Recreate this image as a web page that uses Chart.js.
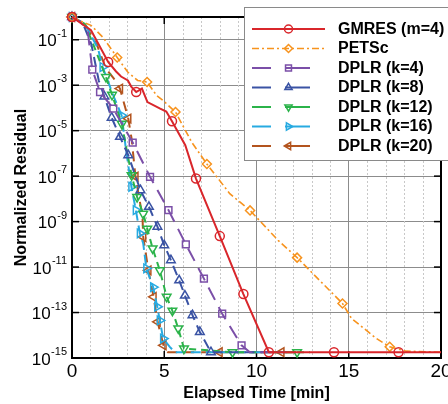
<!DOCTYPE html>
<html>
<head>
<meta charset="utf-8">
<script src="https://cdn.jsdelivr.net/npm/chart.js@4.4.1/dist/chart.umd.min.js"></script>
<style>
  html, body { margin: 0; padding: 0; background: #fff; }
  #wrap { width: 448px; height: 404px; }
</style>
</head>
<body>
<div id="wrap"><canvas id="residualChart"></canvas></div>
<script>
// values (time in min, normalized residual)
const gmresTime = [0, 1.03, 1.96, 2.39, 2.66, 3.03, 3.21, 3.48, 3.79, 4.09, 4.78, 5.11, 5.42, 6.14, 6.72, 8.01, 9.29, 10.67, 14.2, 17.7, 20];
const gmresResidual = [1, 2.6e-1, 1.05e-2, 4.0e-3, 2.4e-3, 1.62e-3, 8.7e-4, 5.0e-4, 7.1e-4, 1.82e-4, 9.3e-5, 6.9e-5, 2.6e-5, 2.3e-6, 7.8e-8, 2.3e-10, 6.5e-13, 1.8e-15, 1.8e-15, 1.8e-15, 1.8e-15];

const petscTime = [0, 0.58, 1.03, 1.66, 2.45, 3.02, 3.56, 4.07, 4.59, 4.94, 5.61, 6.48, 7.31, 8.55, 9.65, 11.17, 12.2, 14.66, 15.15, 16.5, 17.22, 18.12, 20];
const petscResidual = [1, 6.0e-1, 4.3e-1, 1.32e-1, 1.66e-2, 3.8e-3, 1.62e-3, 1.38e-3, 3.5e-4, 2.1e-4, 6.6e-5, 3.2e-6, 3.4e-7, 1.7e-8, 3.1e-9, 1.5e-10, 2.6e-11, 2.5e-13, 5.5e-14, 7.2e-15, 3.1e-15, 2.0e-15, 1.8e-15];

const dplr4Time = [0, 0.45, 0.85, 1.1, 1.52, 2.24, 3.29, 4.23, 5.23, 6.17, 7.15, 8.14, 9.19, 9.64, 11.0];
const dplr4Residual = [1, 6.3e-1, 2.5e-1, 4.8e-3, 5.0e-4, 9.3e-5, 3.0e-6, 9.3e-8, 3.2e-9, 1.0e-10, 3.1e-12, 8.9e-14, 3.6e-15, 1.8e-15, 1.8e-15];

const dplr8Time = [0, 0.6, 1.05, 1.45, 1.75, 2.15, 2.6, 3.05, 3.71, 4.17, 4.63, 5.0, 5.36, 5.81, 6.12, 6.53, 6.93, 7.53, 12.0];
const dplr8Residual = [1, 5.0e-1, 6.3e-2, 1.6e-3, 3.2e-4, 3.7e-5, 5.4e-6, 8.3e-7, 2.4e-8, 4.5e-9, 6.0e-10, 9.1e-11, 2.0e-11, 2.6e-12, 5.6e-13, 7.6e-14, 1.4e-14, 1.8e-15, 1.8e-15];

const dplr12Time = [0, 0.7, 1.2, 1.84, 2.17, 2.7, 2.95, 3.23, 3.53, 3.86, 4.08, 4.37, 4.76, 5.13, 5.44, 5.76, 6.07, 8.7, 12.2, 12.9];
const dplr12Residual = [1, 5.0e-1, 5.0e-2, 2.3e-3, 3.8e-4, 2.0e-5, 1.6e-6, 1.1e-7, 1.2e-8, 2.2e-9, 4.9e-10, 6.6e-11, 7.2e-12, 4.9e-13, 1.2e-13, 2.0e-14, 2.6e-15, 1.8e-15, 1.8e-15, 1.8e-15];

const dplr16Time = [0, 0.7, 1.41, 1.66, 2.24, 2.69, 2.92, 3.22, 3.46, 3.68, 3.86, 4.03, 4.4, 4.62, 4.76, 4.94, 5.3, 5.57, 10.5];
const dplr16Residual = [1, 5.0e-1, 4.1e-2, 6.3e-3, 3.5e-4, 4.7e-5, 1.6e-6, 3.4e-8, 3.2e-9, 3.0e-10, 1.1e-10, 8.7e-12, 1.3e-12, 1.8e-13, 4.5e-14, 7.2e-15, 3.1e-15, 1.8e-15, 1.8e-15];

const dplr20Time = [0, 0.7, 1.35, 1.84, 2.27, 2.6, 3.05, 3.23, 3.44, 3.82, 3.86, 4.14, 4.42, 4.64, 4.96, 5.2, 8.0, 11.35, 12.3];
const dplr20Residual = [1, 5.0e-1, 6.0e-2, 5.4e-3, 1.95e-3, 7.1e-4, 3.4e-5, 4.5e-6, 9.5e-8, 1.66e-9, 2.1e-10, 7.2e-12, 4.9e-13, 3.9e-14, 3.6e-15, 1.8e-15, 1.8e-15, 1.8e-15, 1.8e-15];

const xTickValues = [0, 5, 10, 15, 20];
const yTickExponents = [-15, -13, -11, -9, -7, -5, -3, -1];

const FONT = "'Liberation Sans', Arial, Helvetica, sans-serif";

function pts(t, r) {
  return t.map((x, i) => ({ x: x, y: r[i] }));
}

// marker only on chosen points
function markAt(list, r) {
  return ctx => (list.includes(ctx.dataIndex) ? r : 0);
}

function series(label, t, r, color, opts) {
  return Object.assign({
    label: label,
    data: pts(t, r),
    borderColor: color,
    borderWidth: 2,
    pointBorderColor: color,
    pointBackgroundColor: 'rgba(255,255,255,0)',
    pointBorderWidth: 1.5,
    pointHoverRadius: 0,
    tension: 0,
    clip: false
  }, opts);
}

const datasets = [
  series('GMRES (m=4)', gmresTime, gmresResidual, '#d9262b', {
    pointStyle: 'circle', pointRotation: 0,
    pointRadius: markAt([0, 2, 7, 12, 14, 15, 16, 17, 18, 19], 4.5)
  }),
  series('PETSc', petscTime, petscResidual, '#f7931e', {
    borderWidth: 1.6, borderDash: [7, 3, 2, 3],
    pointStyle: 'rectRot', pointRotation: 0,
    pointRadius: markAt([0, 4, 7, 10, 12, 14, 16, 17, 20], 4.5)
  }),
  series('DPLR (k=4)', dplr4Time, dplr4Residual, '#7b4fa8', {
    borderDash: [14, 8],
    pointStyle: 'rect', pointRotation: 0,
    pointRadius: markAt([0, 3, 4, 5, 6, 7, 8, 9, 10, 11, 12], 4.8)
  }),
  series('DPLR (k=8)', dplr8Time, dplr8Residual, '#3a53a4', {
    borderDash: [10, 6],
    pointStyle: 'triangle', pointRotation: 0,
    pointRadius: markAt([0, 4, 5, 6, 7, 8, 9, 10, 11, 12, 13, 14, 15, 16, 17], 5)
  }),
  series('DPLR (k=12)', dplr12Time, dplr12Residual, '#2bb34a', {
    borderDash: [7, 5],
    pointStyle: 'triangle', pointRotation: 180,
    pointRadius: markAt([0, 3, 4, 5, 7, 8, 9, 10, 11, 12, 13, 14, 15, 16, 17, 18], 5)
  }),
  series('DPLR (k=16)', dplr16Time, dplr16Residual, '#27aae1', {
    borderDash: [10, 5],
    pointStyle: 'triangle', pointRotation: 90,
    pointRadius: markAt([0, 3, 5, 7, 8, 9, 11, 12, 13, 14, 15], 5)
  }),
  series('DPLR (k=20)', dplr20Time, dplr20Residual, '#b3541e', {
    borderDash: [10, 7],
    pointStyle: 'triangle', pointRotation: 270,
    pointRadius: markAt([0, 5, 6, 8, 10, 11, 12, 13, 14, 16, 17], 5)
  })
];

function drawMarker(ctx, style, x, y, r, rotDeg) {
  const rad = rotDeg * Math.PI / 180;
  ctx.beginPath();
  if (style === 'circle') {
    ctx.arc(x, y, r, 0, Math.PI * 2);
  } else if (style === 'rectRot' || style === 'rect') {
    const a = style === 'rect' ? Math.PI / 4 : 0;
    for (let k = 0; k < 4; k++) {
      const ang = a + k * Math.PI / 2;
      const px = x + Math.sin(ang) * r, py = y - Math.cos(ang) * r;
      k ? ctx.lineTo(px, py) : ctx.moveTo(px, py);
    }
  } else {
    for (let k = 0; k < 3; k++) {
      const ang = rad + k * 2 * Math.PI / 3;
      const px = x + Math.sin(ang) * r, py = y - Math.cos(ang) * r;
      k ? ctx.lineTo(px, py) : ctx.moveTo(px, py);
    }
  }
  ctx.closePath();
  ctx.stroke();
}

function line(ctx, x1, y1, x2, y2) {
  ctx.beginPath();
  ctx.moveTo(x1, y1);
  ctx.lineTo(x2, y2);
  ctx.stroke();
}

// dotted minor grid, black frame and inner ticks
const framePlugin = {
  id: 'frame',
  beforeDatasetsDraw(chart) {
    const { ctx, chartArea: a, scales: { x, y } } = chart;
    ctx.save();
    ctx.strokeStyle = '#c8c8c8';
    ctx.lineWidth = 1;
    ctx.setLineDash([2, 2]);
    for (let m = 1; m < 20; m++) {
      if (m % 5 === 0) continue;
      const px = Math.round(x.getPixelForValue(m)) + 0.5;
      line(ctx, px, a.top, px, a.bottom);
    }
    ctx.setLineDash([]);
    ctx.strokeStyle = '#000';
    ctx.lineWidth = 1.5;
    xTickValues.forEach(v => {
      const px = x.getPixelForValue(v);
      line(ctx, px, a.bottom, px, a.bottom - 7);
      line(ctx, px, a.top, px, a.top + 7);
    });
    yTickExponents.forEach(e => {
      const py = y.getPixelForValue(Math.pow(10, e));
      line(ctx, a.left, py, a.left + 7, py);
      line(ctx, a.right, py, a.right - 7, py);
    });
    ctx.lineWidth = 2;
    ctx.strokeRect(a.left, a.top, a.right - a.left, a.bottom - a.top);
    ctx.restore();
  },
  afterDraw(chart) {
    const { ctx, scales: { y } } = chart;
    ctx.save();
    ctx.fillStyle = '#000';
    yTickExponents.forEach(e => {
      const py = y.getPixelForValue(Math.pow(10, e));
      const sup = String(e);
      ctx.font = '11px ' + FONT;
      const sw = ctx.measureText(sup).width;
      const right = 67;
      ctx.textAlign = 'left';
      ctx.textBaseline = 'middle';
      ctx.fillText(sup, right - sw, py - 6);
      ctx.font = '17px ' + FONT;
      ctx.textAlign = 'right';
      ctx.fillText('10', right - sw - 0.5, py + 2);
    });
    ctx.restore();
  }
};

// legend with line sample and marker in the middle
const legendPlugin = {
  id: 'sampleLegend',
  afterDraw(chart) {
    const ctx = chart.ctx;
    ctx.save();
    ctx.fillStyle = '#fff';
    ctx.fillRect(244.5, 7.5, 220, 153);
    ctx.strokeStyle = '#8a8a8a';
    ctx.lineWidth = 1;
    ctx.strokeRect(244.5, 7.5, 220, 153);
    chart.data.datasets.forEach((ds, i) => {
      const yy = 29 + i * 19.5;
      ctx.strokeStyle = ds.borderColor;
      ctx.lineWidth = 2;
      if (i === 0) {
        line(ctx, 252, yy, 325, yy);
      } else if (i === 1) {
        ctx.lineWidth = 1.6;
        ctx.setLineDash(ds.borderDash);
        line(ctx, 252, yy, 325, yy);
        ctx.setLineDash([]);
      } else {
        line(ctx, 252, yy, 271, yy);
        line(ctx, 285, yy, 310, yy);
      }
      ctx.lineWidth = 1.5;
      drawMarker(ctx, ds.pointStyle, 288.5, yy, i === 0 || i === 1 ? 4 : 4.2, ds.pointRotation);
      ctx.fillStyle = '#000';
      ctx.font = 'bold 16px ' + FONT;
      ctx.textAlign = 'left';
      ctx.textBaseline = 'middle';
      ctx.fillText(ds.label, 338, yy + 0.5);
    });
    ctx.restore();
  }
};

new Chart(document.getElementById('residualChart'), {
  type: 'line',
  data: { datasets: datasets },
  plugins: [framePlugin, legendPlugin],
  options: {
    responsive: true,
    maintainAspectRatio: false,
    animation: false,
    events: [],
    layout: { padding: { top: 17, right: 7, left: 0, bottom: 0 } },
    plugins: { legend: { display: false }, tooltip: { enabled: false } },
    scales: {
      x: {
        type: 'linear',
        min: 0,
        max: 20,
        border: { display: false },
        grid: { color: '#8c8c8c', lineWidth: 1, drawTicks: false },
        ticks: {
          stepSize: 5,
          color: '#000',
          padding: 2,
          maxRotation: 0,
          font: { family: FONT, size: 19 }
        },
        title: {
          display: true,
          text: 'Elapsed Time [min]',
          color: '#000',
          padding: { top: 0, bottom: 1 },
          font: { family: FONT, size: 16, weight: 'bold' }
        },
        afterFit(scale) {
          scale.height = 46;
          scale.paddingLeft = 0;
          scale.paddingRight = 0;
        }
      },
      y: {
        type: 'logarithmic',
        min: 1e-15,
        max: 1,
        border: { display: false },
        grid: { color: '#8c8c8c', lineWidth: 1, drawTicks: false },
        ticks: { display: false },
        afterBuildTicks(scale) {
          scale.ticks = yTickExponents.map(e => ({ value: Math.pow(10, e) }));
        },
        title: {
          display: true,
          text: 'Normalized Residual',
          color: '#000',
          padding: { top: 12, bottom: 0 },
          font: { family: FONT, size: 16, weight: 'bold' }
        },
        afterFit(scale) {
          scale.width = 72;
          scale.paddingTop = 0;
          scale.paddingBottom = 0;
        }
      }
    }
  }
});
</script>
</body>
</html>
